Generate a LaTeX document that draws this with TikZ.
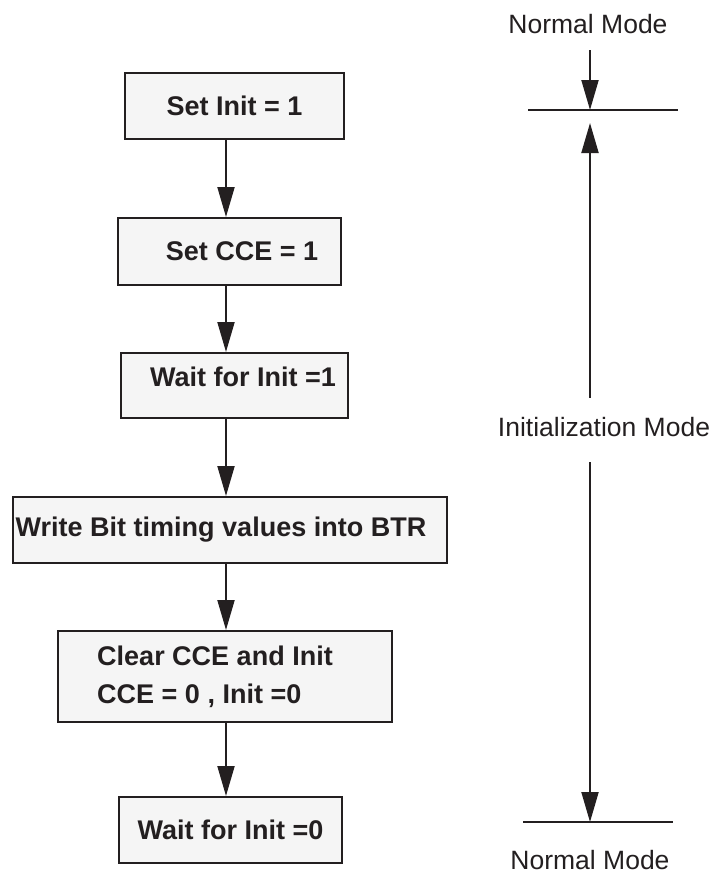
\documentclass[tikz,border=0pt]{standalone}
\usepackage{fontspec}
\setmainfont{Liberation Sans}
\usetikzlibrary{arrows.meta}
\definecolor{ink}{HTML}{231F20}
\definecolor{boxfill}{HTML}{F5F5F5}

\begin{document}
\begin{tikzpicture}[x=1pt,y=-1pt,
    stepbox/.style={draw=ink,fill=boxfill,line width=2pt,inner sep=0pt,text=ink,
        font=\bfseries\fontsize{27}{38}\selectfont},
    flow/.style={draw=ink,line width=2pt,-{Triangle[length=30pt,width=17pt]}},
    bar/.style={draw=ink,line width=2pt},
    modetxt/.style={text=ink,inner sep=2pt,font=\fontsize{26.5}{31}\selectfont}]
    \useasboundingbox (0,0) rectangle (710,875);
    % Flow chart steps
    \node[stepbox,minimum width=219pt,minimum height=66pt] (setinit) at (234.5,106) {Set Init = 1};
    \node[stepbox,minimum width=223pt,minimum height=67pt] (setcce) at (229.5,251.5) {\hspace*{25pt}Set CCE = 1};
    \node[stepbox,minimum width=227pt,minimum height=65pt,text depth=17pt] (waitone) at (234.5,385.5) {\hspace*{17pt}Wait for Init =1};
    \node[stepbox,minimum width=434pt,minimum height=66pt] (writebtr) at (230,530) {Write Bit timing values into BTR\hspace*{18pt}};
    \node[stepbox,minimum width=334pt,minimum height=91pt,align=left] (clearcce) at (225,676.5) {Clear CCE and Init\hspace*{20pt}\\ CCE = 0 , Init =0};
    \node[stepbox,minimum width=223pt,minimum height=66pt] (waitzero) at (230.5,830) {Wait for Init =0};
    % Arrows between steps
    \coordinate (spine) at (226,0);
    \foreach \from/\to in {setinit/setcce,setcce/waitone,waitone/writebtr,writebtr/clearcce,clearcce/waitzero} {
        \draw[flow] (\from.south -| spine) -- (\to.north -| spine);
    }
    % Mode markers
    \coordinate (axis) at (590,0);
    \node[modetxt] (normtop) at (588,24) {Normal Mode};
    \node[modetxt] (initmode) at (604,427) {Initialization Mode};
    \node[modetxt] (normbot) at (590,860) {Normal Mode};
    \coordinate (topbarl) at (528,110);
    \coordinate (topbarr) at (678,110);
    \coordinate (botbarl) at (523,822);
    \coordinate (botbarr) at (673,822);
    \draw[bar] (topbarl) -- (topbarr);
    \draw[bar] (botbarl) -- (botbarr);
    \draw[flow,shorten <=14.5pt] (normtop.south -| axis) -- (topbarl -| axis);
    \draw[flow,shorten <=17.5pt,shorten >=13pt] (initmode.north -| axis) -- (topbarl -| axis);
    \draw[flow,shorten <=23.5pt] (initmode.south -| axis) -- (botbarl -| axis);
\end{tikzpicture}
\end{document}
